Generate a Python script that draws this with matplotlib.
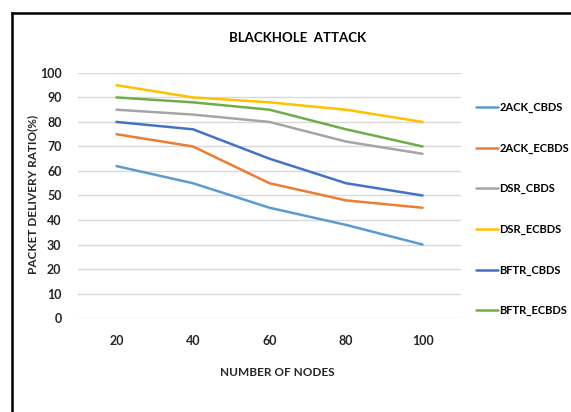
import numpy as np
import matplotlib.pyplot as plt
from matplotlib.lines import Line2D

plt.rcParams['font.family'] = ['Lato', 'DejaVu Sans']

nodes = ['20', '40', '60', '80', '100']
ack2_cbds = [62, 55, 45, 38, 30]
ack2_ecbds = [75, 70, 55, 48, 45]
dsr_cbds = [85, 83, 80, 72, 67]
dsr_ecbds = [95, 90, 88, 85, 80]
bftr_cbds = [80, 77, 65, 55, 50]
bftr_ecbds = [90, 88, 85, 77, 70]

series = [
    ('2ACK_CBDS', ack2_cbds, '#5B9BD5'),
    ('2ACK_ECBDS', ack2_ecbds, '#ED7D31'),
    ('DSR_CBDS', dsr_cbds, '#A5A5A5'),
    ('DSR_ECBDS', dsr_ecbds, '#FFC000'),
    ('BFTR_CBDS', bftr_cbds, '#4472C4'),
    ('BFTR_ECBDS', bftr_ecbds, '#70AD47'),
]

fig = plt.figure(figsize=(5.71, 4.12), dpi=100)
ax = fig.add_axes([0.137, 0.228, 0.670, 0.595])

x = np.arange(len(nodes))
for name, vals, col in series:
    ax.plot(x, vals, color=col, lw=1.8, label=name, solid_capstyle='round')

ax.set_xlim(-0.5, len(nodes) - 0.5)
ax.set_ylim(0, 100)
ax.set_yticks(range(0, 101, 10))
ax.set_xticks(x)
ax.set_xticklabels(nodes)
ax.grid(axis='y', color='#D9D9D9', lw=1)
ax.set_axisbelow(True)
for s in ax.spines.values():
    s.set_visible(False)
ax.tick_params(length=0, labelsize=9, colors='#262626')
ax.tick_params(axis='y', pad=12)
ax.tick_params(axis='x', pad=12)
for lab in ax.get_xticklabels() + ax.get_yticklabels():
    lab.set_fontweight('bold')

fig.text(0.522, 0.908, 'BLACKHOLE  ATTACK', ha='center', va='center',
         fontsize=9.5, fontweight='bold', color='#000000')
fig.text(0.485, 0.097, 'NUMBER OF NODES', ha='center', va='center',
         fontsize=8.5, fontweight='bold', color='#262626')
fig.text(0.058, 0.527, 'PACKET DELIVERY RATIO(%)', ha='center', va='center',
         rotation=90, fontsize=8.5, fontweight='bold', color='#262626')

ax.legend(loc='upper left', bbox_to_anchor=(0.826, 0.763), bbox_transform=fig.transFigure,
          frameon=False, handlelength=2.0, handletextpad=0.1,
          labelspacing=2.65, borderaxespad=0, prop={'weight': 'bold', 'size': 8})

# frame edges
fig.add_artist(Line2D([0.021, 1.0], [0.968, 0.968], color='black', lw=1.8,
                      transform=fig.transFigure))
fig.add_artist(Line2D([0.021, 0.021], [0.0, 0.968], color='black', lw=1.8,
                      transform=fig.transFigure))

fig.savefig('out.png', dpi=100)
